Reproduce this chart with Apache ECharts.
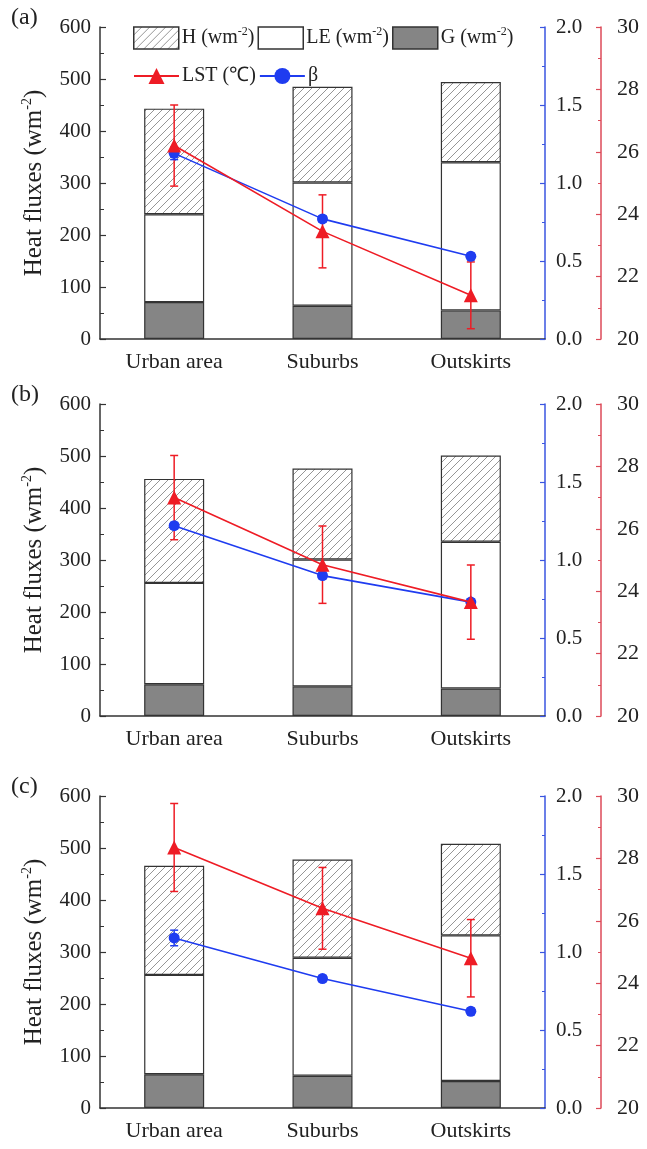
<!DOCTYPE html>
<html>
<head>
<meta charset="utf-8">
<script src="https://cdn.jsdelivr.net/npm/echarts@6/dist/echarts.min.js"></script>
<style>
  html, body { margin: 0; padding: 0; background: #fff; }
  #chart { width: 647px; height: 1149px; }
</style>
</head>
<body>
<div id="chart"></div>
<script>
// Surface energy balance by zone: stacked heat fluxes with LST and Bowen ratio
const categories = ['Urban area', 'Suburbs', 'Outskirts'];
const panelLabels = ['(a)', '(b)', '(c)'];

// Panel (a)
const gA = [71, 64, 55];
const leA = [169, 237, 285];
const hA = [203, 184, 154];
const betaA = [1.19, 0.77, 0.53];
const betaErrA = [0.04, 0.02, 0.02];
const lstA = [26.2, 23.45, 21.4];
const lstErrA = [1.3, 1.17, 1.07];

// Panel (b)
const gB = [61, 57, 53];
const leB = [195, 244, 282];
const hB = [200, 175, 166];
const betaB = [1.22, 0.9, 0.73];
const betaErrB = [0.02, 0.02, 0.02];
const lstB = [27.0, 24.85, 23.65];
const lstErrB = [1.35, 1.24, 1.19];

// Panel (c)
const gC = [65, 62, 52];
const leC = [191, 227, 280];
const hC = [210, 189, 176];
const betaC = [1.09, 0.83, 0.62];
const betaErrC = [0.05, 0.02, 0.02];
const lstC = [28.35, 26.4, 24.8];
const lstErrC = [1.41, 1.31, 1.24];

const fluxTicks = { min: 0, max: 600, interval: 100 };
const betaTicks = { min: 0, max: 2, interval: 0.5 };
const lstTicks = { min: 20, max: 30, interval: 2 };

const panels = [
  { g: gA, le: leA, h: hA, beta: betaA, betaErr: betaErrA, lst: lstA, lstErr: lstErrA },
  { g: gB, le: leB, h: hB, beta: betaB, betaErr: betaErrB, lst: lstB, lstErr: lstErrB },
  { g: gC, le: leC, h: hC, beta: betaC, betaErr: betaErrC, lst: lstC, lstErr: lstErrC }
];

const FONT = '"Liberation Serif", "Times New Roman", serif';
const RED = '#ee1c25';
const BLUE = '#1f3cf0';
const RED_AXIS = '#dc4a58';
const BLUE_AXIS = '#3a55e0';
const INK = '#222';

// Diagonal hatch fill for the sensible heat bars
function hatchCanvas() {
  const s = 8;
  const c = document.createElement('canvas');
  c.width = s; c.height = s;
  const ctx = c.getContext('2d');
  ctx.fillStyle = '#fff';
  ctx.fillRect(0, 0, s, s);
  ctx.strokeStyle = '#8a8a8a';
  ctx.lineWidth = 0.9;
  ctx.beginPath();
  ctx.moveTo(0, s); ctx.lineTo(s, 0);
  ctx.moveTo(-1, 1); ctx.lineTo(1, -1);
  ctx.moveTo(s - 1, s + 1); ctx.lineTo(s + 1, s - 1);
  ctx.stroke();
  return c;
}
const hatch = { image: hatchCanvas(), repeat: 'repeat' };

const gridTops = [27, 404, 796];
const gridH = 312;

const richUnits = {
  n: { fontFamily: FONT, fontSize: 20, color: INK, lineHeight: 24 },
  s: { fontFamily: FONT, fontSize: 12, color: INK, verticalAlign: 'top', lineHeight: 24, padding: [0, 0, 9, 0] }
};

const grids = [], xAxes = [], yAxes = [], series = [], graphics = [];

function errRender(params, api) {
  const x = api.value(0);
  const lo = api.coord([x, api.value(1)]);
  const hi = api.coord([x, api.value(2)]);
  const cap = 4;
  const st = { stroke: api.visual('color'), lineWidth: 1.5 };
  return {
    type: 'group',
    children: [
      { type: 'line', shape: { x1: lo[0], y1: lo[1], x2: hi[0], y2: hi[1] }, style: st },
      { type: 'line', shape: { x1: lo[0] - cap, y1: lo[1], x2: lo[0] + cap, y2: lo[1] }, style: st },
      { type: 'line', shape: { x1: hi[0] - cap, y1: hi[1], x2: hi[0] + cap, y2: hi[1] }, style: st }
    ]
  };
}

panels.forEach((p, i) => {
  grids.push({ left: 100, width: 445, top: gridTops[i], height: gridH });

  xAxes.push({
    type: 'category', gridIndex: i, data: categories,
    axisLine: { lineStyle: { color: '#333', width: 1.5 } },
    axisTick: { show: false },
    axisLabel: { fontFamily: FONT, fontSize: 22, color: INK, margin: 12 },
    splitLine: { show: false }
  });

  const base = i * 3;
  yAxes.push({
    type: 'value', gridIndex: i, position: 'left',
    min: fluxTicks.min, max: fluxTicks.max, interval: fluxTicks.interval,
    name: '{n|Heat fluxes (wm}{s|-2}{n|)}',
    nameLocation: 'middle', nameGap: 51, nameRotate: 90,
    nameTextStyle: {
      rich: {
        n: { fontFamily: FONT, fontSize: 25, color: INK, lineHeight: 29 },
        s: { fontFamily: FONT, fontSize: 14, color: INK, verticalAlign: 'top', lineHeight: 29, padding: [0, 0, 11, 0] }
      }
    },
    axisLine: { show: true, lineStyle: { color: '#333', width: 1.5 } },
    axisTick: { show: true, inside: true, length: 6, lineStyle: { color: '#333', width: 1.2 } },
    minorTick: { show: true, splitNumber: 2, length: 4, lineStyle: { color: '#333', width: 1 } },
    axisLabel: { fontFamily: FONT, fontSize: 21, color: INK, margin: 9 },
    splitLine: { show: false }, minorSplitLine: { show: false }
  });
  yAxes.push({
    type: 'value', gridIndex: i, position: 'right',
    min: betaTicks.min, max: betaTicks.max, interval: betaTicks.interval,
    axisLine: { show: true, lineStyle: { color: BLUE_AXIS, width: 1.5 } },
    axisTick: { show: true, inside: true, length: 5, lineStyle: { color: BLUE_AXIS, width: 1.2 } },
    minorTick: { show: true, splitNumber: 2, length: 3, lineStyle: { color: BLUE_AXIS } },
    axisLabel: { fontFamily: FONT, fontSize: 21, color: INK, margin: 11, formatter: v => v.toFixed(1) },
    splitLine: { show: false }, minorSplitLine: { show: false }
  });
  yAxes.push({
    type: 'value', gridIndex: i, position: 'right', offset: 56,
    min: lstTicks.min, max: lstTicks.max, interval: lstTicks.interval,
    axisLine: { show: true, lineStyle: { color: RED_AXIS, width: 1.5 } },
    axisTick: { show: true, inside: true, length: 5, lineStyle: { color: RED_AXIS, width: 1.2 } },
    minorTick: { show: true, splitNumber: 2, length: 3, lineStyle: { color: RED_AXIS } },
    axisLabel: { fontFamily: FONT, fontSize: 22, color: INK, margin: 16 },
    splitLine: { show: false }, minorSplitLine: { show: false }
  });

  const barBase = { type: 'bar', xAxisIndex: i, yAxisIndex: base, stack: 'flux' + i, barWidth: 60 };
  series.push(Object.assign({}, barBase, {
    name: 'G', data: p.g, itemStyle: { color: '#858585', borderColor: '#333', borderWidth: 1.2 }
  }));
  series.push(Object.assign({}, barBase, {
    name: 'LE', data: p.le, itemStyle: { color: '#fff', borderColor: '#333', borderWidth: 1.2 }
  }));
  series.push(Object.assign({}, barBase, {
    name: 'H', data: p.h, itemStyle: { color: hatch, borderColor: '#333', borderWidth: 1.2 }
  }));

  series.push({
    type: 'custom', name: 'LST err', xAxisIndex: i, yAxisIndex: base + 2, z: 4,
    itemStyle: { color: RED }, renderItem: errRender,
    encode: { x: 0, y: [1, 2] },
    data: p.lst.map((v, k) => [k, v - p.lstErr[k], v + p.lstErr[k]])
  });
  series.push({
    type: 'custom', name: 'β err', xAxisIndex: i, yAxisIndex: base + 1, z: 4,
    itemStyle: { color: BLUE }, renderItem: errRender,
    encode: { x: 0, y: [1, 2] },
    data: p.beta.map((v, k) => [k, v - p.betaErr[k], v + p.betaErr[k]])
  });
  series.push({
    type: 'line', name: 'β', xAxisIndex: i, yAxisIndex: base + 1, z: 5,
    data: p.beta, symbol: 'circle', symbolSize: 11,
    lineStyle: { color: BLUE, width: 1.6 }, itemStyle: { color: BLUE }
  });
  series.push({
    type: 'line', name: 'LST', xAxisIndex: i, yAxisIndex: base + 2, z: 6,
    data: p.lst, symbol: 'triangle', symbolSize: 14,
    lineStyle: { color: RED, width: 1.6 }, itemStyle: { color: RED }
  });

  graphics.push({
    type: 'text', left: 11, top: gridTops[i] - 21,
    style: { text: panelLabels[i], font: '24px ' + FONT, fill: INK }
  });
});

const option = {
  animation: false,
  backgroundColor: '#fff',
  grid: grids,
  xAxis: xAxes,
  yAxis: yAxes,
  series: series,
  graphic: graphics,
  legend: [
    {
      data: ['H', 'LE', 'G'], left: 128, top: 21, itemWidth: 45, itemHeight: 22, itemGap: 3,
      icon: 'rect',
      selectedMode: false,
      itemStyle: { borderColor: '#333', borderWidth: 1.5 },
      formatter: n => '{n|' + n + ' (wm}{s|-2}{n|)}',
      textStyle: { rich: richUnits, padding: [0, 0, 0, -2] }
    },
    {
      data: ['LST', 'β'], left: 128, top: 61, itemWidth: 45, itemHeight: 20, itemGap: 3,
      selectedMode: false,
      formatter: n => n === 'LST' ? 'LST (℃)' : n,
      textStyle: { fontFamily: FONT, fontSize: 20, color: INK, padding: [0, 0, 0, -2] }
    }
  ]
};

const chart = echarts.init(document.getElementById('chart'), null, { renderer: 'canvas' });
chart.setOption(option);
</script>
</body>
</html>
